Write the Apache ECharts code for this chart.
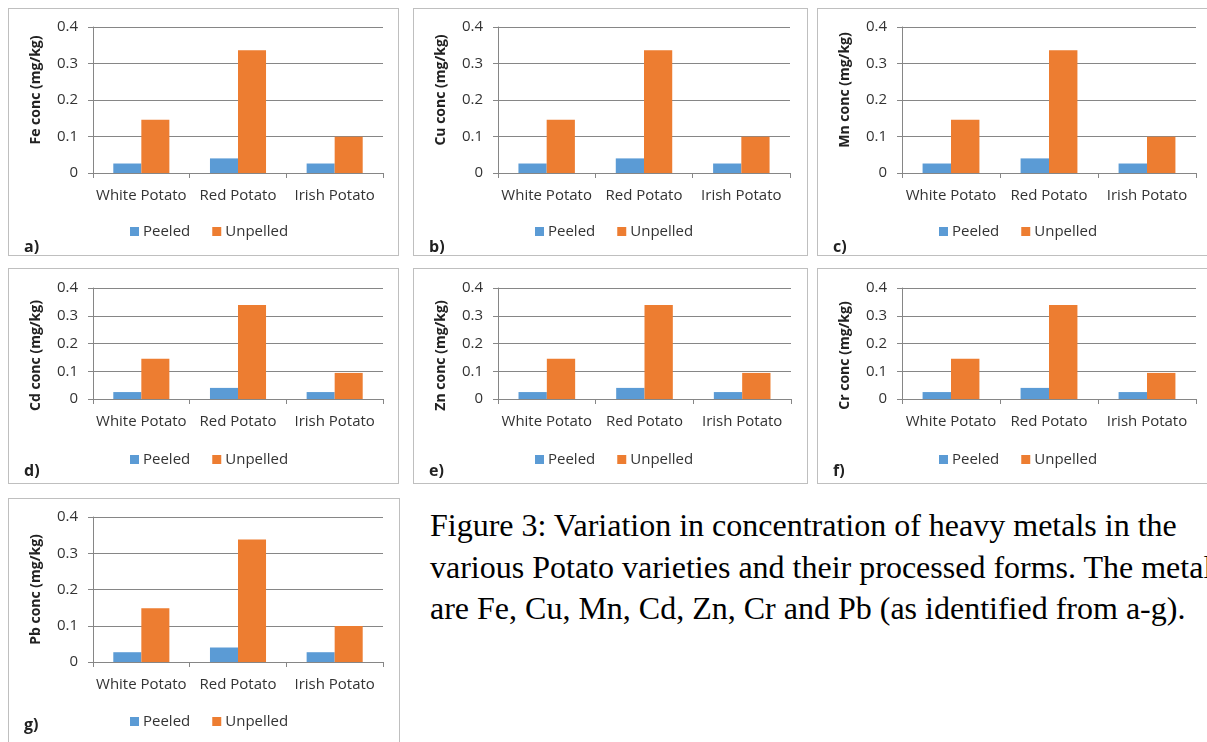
<!DOCTYPE html>
<html>
<head>
<meta charset="utf-8">
<script src="https://cdn.jsdelivr.net/npm/echarts@6/dist/echarts.min.js"></script>
<style>
  html, body { margin: 0; padding: 0; background: #fff; overflow: hidden; width: 1207px; height: 742px; }
  .panel { position: absolute; border: 1px solid #bfbfbf; box-sizing: border-box; background: #fff; }
  .panel > div { width: 100%; height: 100%; }
  #caption {
    position: absolute; left: 430px; top: 505px;
    font-family: 'Liberation Serif', 'Times New Roman', serif; font-size: 32px; line-height: 41.5px;
    white-space: nowrap; color: #000;
  }
</style>
</head>
<body>
<div id="caption">Figure 3: Variation in concentration of heavy metals in the<br>various Potato varieties and their processed forms. The metals<br>are Fe, Cu, Mn, Cd, Zn, Cr and Pb (as identified from a-g).</div>
<script>
// data
const categories = ['White Potato', 'Red Potato', 'Irish Potato']
const seriesNames = ['Peeled', 'Unpelled']
const metals = ['Fe', 'Cu', 'Mn', 'Cd', 'Zn', 'Cr', 'Pb']
const panelLetters = ['a', 'b', 'c', 'd', 'e', 'f', 'g']
const peeledValues = [
  [0.026, 0.040, 0.026],
  [0.026, 0.040, 0.026],
  [0.026, 0.040, 0.026],
  [0.025, 0.040, 0.025],
  [0.025, 0.040, 0.025],
  [0.025, 0.040, 0.025],
  [0.027, 0.040, 0.027]
]
const unpelledValues = [
  [0.146, 0.336, 0.099],
  [0.146, 0.336, 0.099],
  [0.146, 0.336, 0.099],
  [0.145, 0.339, 0.094],
  [0.145, 0.339, 0.094],
  [0.145, 0.339, 0.094],
  [0.148, 0.338, 0.099]
]
const yMin = 0
const yMax = 0.4
const yStep = 0.1

// panel boxes on the page
const panels = [
  { left: 8, top: 8, width: 391, height: 248, gw: 290, gh: 146, gt: 18, shift: 20, legendTop: 210, letterTop: 225 },
  { left: 413, top: 8, width: 395, height: 248, gw: 292, gh: 146, gt: 18, shift: 20, legendTop: 210, letterTop: 225 },
  { left: 817, top: 8, width: 400, height: 248, gw: 294, gh: 146, gt: 18, shift: 20, legendTop: 210, letterTop: 225 },
  { left: 8, top: 268, width: 391, height: 216, gw: 290, gh: 111, gt: 19, shift: -24, legendTop: 178, letterTop: 189 },
  { left: 413, top: 268, width: 395, height: 216, gw: 293, gh: 111, gt: 19, shift: -24, legendTop: 178, letterTop: 189 },
  { left: 817, top: 268, width: 400, height: 216, gw: 294, gh: 111, gt: 19, shift: -24, legendTop: 178, letterTop: 189 },
  { left: 8, top: 498, width: 392, height: 260, gw: 290, gh: 145, gt: 18, shift: 0, legendTop: 210, letterTop: 213 }
]

const font = "'Open Sans', 'DejaVu Sans', sans-serif"
const blue = '#5b9bd5'
const orange = '#ed7d31'
const lineGrey = '#868686'

const renderPanel = (i) => {
  const p = panels[i]
  const wrap = document.createElement('div')
  wrap.className = 'panel'
  wrap.style.left = p.left + 'px'
  wrap.style.top = p.top + 'px'
  wrap.style.width = p.width + 'px'
  wrap.style.height = p.height + 'px'
  const el = document.createElement('div')
  wrap.appendChild(el)
  document.body.appendChild(wrap)

  const chart = echarts.init(el, null, { renderer: 'canvas' })
  const pad = p.shift >= 0 ? [0, 0, 0, p.shift] : [0, -p.shift, 0, 0]
  const options = {
    animation: false,
    textStyle: { fontFamily: font },
    title: {
      text: panelLetters[i] + ')',
      left: 10,
      top: p.letterTop,
      textStyle: { fontSize: 16, fontWeight: 'bold', color: '#222', fontFamily: font }
    },
    legend: {
      data: seriesNames,
      left: 116,
      top: p.legendTop,
      icon: 'rect',
      itemWidth: 9,
      itemHeight: 9,
      itemGap: 22,
      textStyle: { fontSize: 15, color: '#333', fontFamily: font, padding: [0, 0, 0, -1] }
    },
    grid: { left: 84, top: p.gt, width: p.gw, height: p.gh, containLabel: false },
    xAxis: {
      type: 'category',
      data: categories,
      axisLine: { lineStyle: { color: lineGrey, width: 1 } },
      axisTick: { show: true, length: 5, lineStyle: { color: lineGrey } },
      axisLabel: { interval: 0, fontSize: 15, color: '#333', margin: 15, fontFamily: font }
    },
    yAxis: {
      type: 'value',
      min: yMin,
      max: yMax,
      interval: yStep,
      name: metals[i] + ' conc (mg/kg)',
      nameLocation: 'middle',
      nameRotate: 90,
      nameGap: 50,
      nameTextStyle: { fontSize: 14, fontWeight: 'bold', color: '#222', fontFamily: font, padding: pad },
      axisLine: { show: true, lineStyle: { color: lineGrey, width: 1 } },
      axisTick: { show: true, length: 5, lineStyle: { color: lineGrey } },
      splitLine: { lineStyle: { color: lineGrey, width: 1 } },
      axisLabel: {
        fontSize: 15, color: '#333', margin: 15, fontFamily: font,
        formatter: (v) => (v === 0 ? '0' : v.toFixed(1))
      }
    },
    series: [
      {
        name: seriesNames[0],
        type: 'bar',
        data: peeledValues[i],
        barGap: '0%',
        barCategoryGap: '42%',
        itemStyle: { color: blue }
      },
      {
        name: seriesNames[1],
        type: 'bar',
        data: unpelledValues[i],
        barGap: '0%',
        barCategoryGap: '42%',
        itemStyle: { color: orange }
      }
    ]
  }
  chart.setOption(options)
}

for (let i = 0; i < panels.length; i++) {
  renderPanel(i)
}
</script>
</body>
</html>
